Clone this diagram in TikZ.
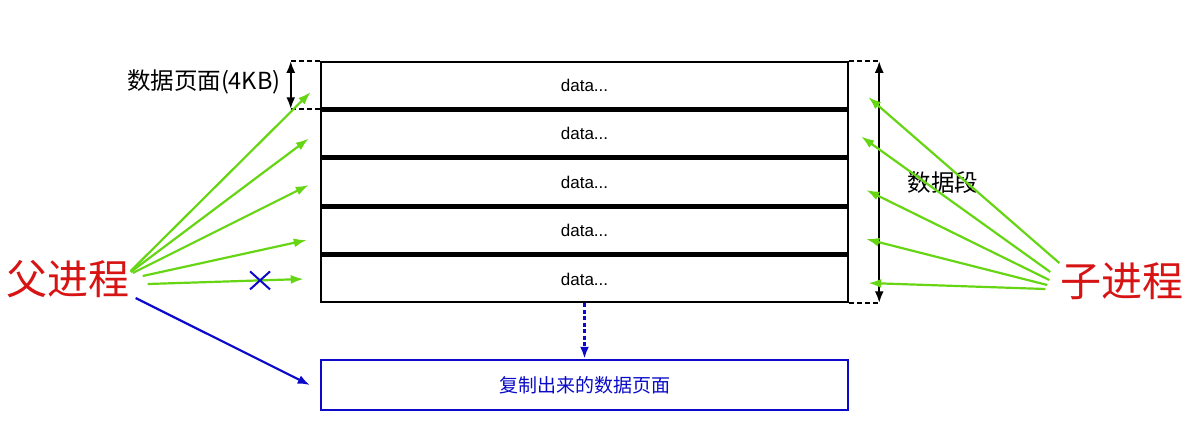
\documentclass[tikz,border=0pt]{standalone}
\usepackage{fontspec}
\setmainfont{Liberation Sans}
\newfontfamily\cjk{Noto Sans CJK SC}
\usepackage{tikz}
\usetikzlibrary{positioning,calc,arrows.meta}

\definecolor{ptrgreen}{RGB}{102,214,20}
\definecolor{copyblue}{RGB}{10,10,200}
\definecolor{procred}{RGB}{215,20,20}

\tikzset{
  rowbox/.style={draw=black,line width=2.5pt,minimum width=527pt,minimum height=46pt,
    inner sep=0pt,font=\fontsize{17}{20}\selectfont},
  proc/.style={inner sep=0pt,text=procred,font=\cjk\fontsize{41}{44}\selectfont},
  ptr/.style={-{Latex[length=13pt,width=9pt]},ptrgreen,line width=2.2pt},
  dimline/.style={dash pattern=on 5pt off 3pt,line width=2pt},
  lbl/.style={inner sep=0pt,font=\cjk\fontsize{23.5}{26}\selectfont}
}

\begin{document}
\begin{tikzpicture}[>={Latex[length=12pt,width=9pt]},x=1pt,y=-1pt]
\useasboundingbox (0,0) rectangle (1200,445);

\foreach \k in {1,...,5} {
  \node[rowbox] (r\k) at (584.5, {85 + (\k-1)*48.5}) {data...};
}
\node[rowbox,draw=copyblue,text=copyblue,minimum height=50pt,font=\cjk\fontsize{19}{22}\selectfont]
  (copy) at (584.5,385) {复制出来的数据页面};

\node[proc] (fu) at (68,279) {父进程};
\node[proc] (zi) at (1122,281) {子进程};

% page size
\draw[dimline] (r1.north west) -- ++(-31,0) coordinate (pt);
\draw[dimline] (r1.south west) -- ++(-31,0) coordinate (pb);
\draw[<->,line width=2.4pt] ([xshift=2]pt) -- ([xshift=2]pb);
\node[lbl,left=8pt of pt,yshift=-21pt] (pagelbl) {数据页面(4KB)};

% data segment
\draw[dimline] (r1.north east) -- ++(30,0) coordinate (st);
\draw[dimline] (r5.south east) -- ++(30,0) coordinate (sb);
\draw[<->,line width=2.4pt] (st) -- (sb);
\node[lbl] (seglbl) at (943,183) {数据段};

% parent
\draw[ptr] ([xshift=1,yshift=8]fu.east) -- ([xshift=-9,yshift=-7]r1.west);
\draw[ptr] ([xshift=1,yshift=7]fu.east) -- ([xshift=-11,yshift=-5]r2.west);
\draw[ptr] ([xshift=3,yshift=6]fu.east) -- ([xshift=-11,yshift=-3]r3.west);
\draw[ptr] ([xshift=13,yshift=3]fu.east) -- ([xshift=-13,yshift=-9.5]r4.west);
\draw[ptr] ([xshift=18,yshift=-5]fu.east) coordinate (f5) -- ([xshift=-16,yshift=0]r5.west) coordinate (t5);
\draw[copyblue,line width=2pt] ($(f5)!0.72!(t5)$) ++(-10,-9) -- ++(20,18)
  ++(0,-18) -- ++(-20,18);
\draw[->,copyblue,line width=2.2pt] ([xshift=6,yshift=-19]fu.east) -- ([xshift=-10]copy.west);

% child
\foreach \k/\dx/\dy/\sx/\sy in {1/19/-12/-1/18, 2/12/-3/-10/9, 3/17/-8/-11/1, 4/17/-8.5/-13/-4, 5/19/-4/-15/-8} {
  \draw[ptr] ([xshift=\sx,yshift=\sy]zi.west) -- ([xshift=\dx,yshift=\dy]r\k.east);
}

\draw[->,copyblue,dash pattern=on 4pt off 2.5pt,line width=2.5pt] (r5.south) -- (copy.north);
\end{tikzpicture}
\end{document}
